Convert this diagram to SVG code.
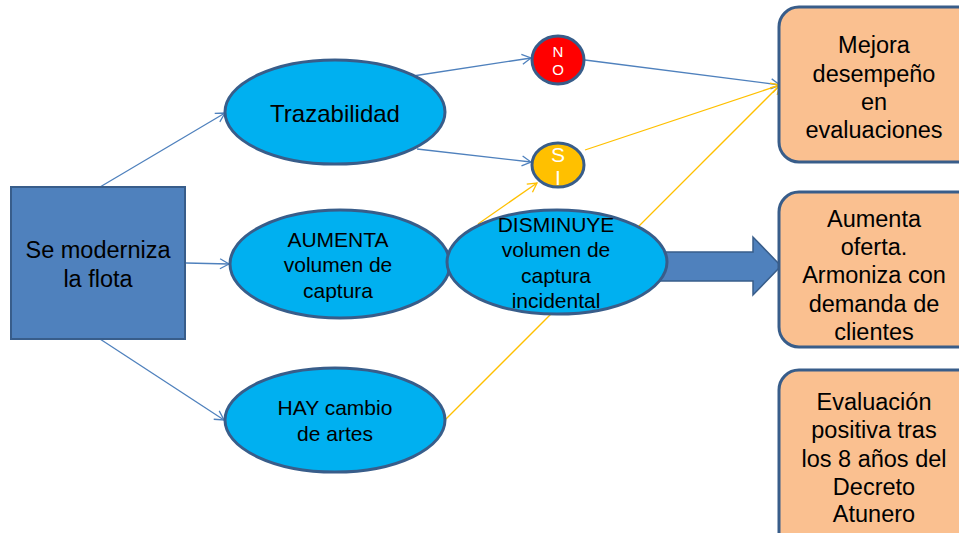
<svg xmlns="http://www.w3.org/2000/svg" width="959" height="533" viewBox="0 0 959 533">
<defs>
<style>
text{font-family:"Liberation Sans",Arial,sans-serif;text-anchor:middle;fill:#000}
.ell{fill:#00b0f0;stroke:#385d8a;stroke-width:3}
.box{fill:#fac090;stroke:#385d8a;stroke-width:3}
.blue{stroke:#4f81bd;stroke-width:1.3;fill:none}
.yel{stroke:#ffc000;stroke-width:1.3;fill:none}
.t24{font-size:23.5px}
.t21{font-size:21px}
.w{fill:#fff}
</style>
<marker id="ab" markerWidth="12" markerHeight="12" refX="10" refY="6" orient="auto" markerUnits="userSpaceOnUse"><path d="M1,1 L10,6 L1,11" fill="none" stroke="#4f81bd" stroke-width="1.3"/></marker>
<marker id="ay" markerWidth="12" markerHeight="12" refX="10" refY="6" orient="auto" markerUnits="userSpaceOnUse"><path d="M1,1 L10,6 L1,11" fill="none" stroke="#ffc000" stroke-width="1.3"/></marker>
</defs>
<rect width="959" height="533" fill="#fff"/>
<g id="connectors">
<line class="blue" x1="100" y1="187" x2="225" y2="113" marker-end="url(#ab)"/>
<line class="blue" x1="186" y1="263" x2="229" y2="264" marker-end="url(#ab)"/>
<line class="blue" x1="100" y1="339" x2="224" y2="420" marker-end="url(#ab)"/>
<line class="blue" x1="413" y1="76" x2="531" y2="58" marker-end="url(#ab)"/>
<line class="blue" x1="417" y1="149" x2="531" y2="162" marker-end="url(#ab)"/>
<line class="blue" x1="585" y1="60" x2="780" y2="85" marker-end="url(#ab)"/>
<line class="yel" x1="585" y1="150" x2="780" y2="85" marker-end="url(#ay)"/>
<line class="yel" x1="445" y1="420" x2="780" y2="85" marker-end="url(#ay)"/>
<line class="yel" x1="478" y1="224" x2="537" y2="183" marker-end="url(#ay)"/>
</g>
<g id="big-arrow">
<path d="M655,252 L753,252 L753,237 L781,266 L753,295 L753,281 L655,281 Z" fill="#4f81bd" stroke="#385d8a" stroke-width="1.5"/>
</g>
<g id="n-flota">
<rect x="11" y="187" width="174" height="152" fill="#4f81bd" stroke="#385d8a" stroke-width="2"/>
<text class="t24" x="98" y="258">Se moderniza</text>
<text class="t24" x="98" y="287">la flota</text>
</g>
<g id="n-traz">
<ellipse class="ell" cx="335" cy="112" rx="110" ry="52"/>
<text x="335" y="122" style="font-size:24px">Trazabilidad</text>
</g>
<g id="n-aumenta">
<ellipse class="ell" cx="340" cy="264" rx="110" ry="54"/>
<text class="t21" x="338" y="247">AUMENTA</text>
<text class="t21" x="338" y="272">volumen de</text>
<text class="t21" x="338" y="298">captura</text>
</g>
<g id="n-disminuye">
<ellipse class="ell" cx="557" cy="262" rx="110" ry="52"/>
<text class="t21" x="556" y="232">DISMINUYE</text>
<text class="t21" x="556" y="257">volumen de</text>
<text class="t21" x="556" y="283">captura</text>
<text class="t21" x="556" y="308">incidental</text>
</g>
<g id="n-hay">
<ellipse class="ell" cx="335" cy="420" rx="110" ry="52"/>
<text class="t21" x="335" y="415">HAY cambio</text>
<text class="t21" x="335" y="441">de artes</text>
</g>
<g id="n-no">
<ellipse cx="558" cy="60" rx="26" ry="24" fill="#ff0000" stroke="#385d8a" stroke-width="3"/>
<text class="w" x="558" y="57" style="font-size:15px">N</text>
<text class="w" x="558" y="75" style="font-size:15px">O</text>
</g>
<g id="n-si">
<ellipse cx="558" cy="165" rx="26" ry="22" fill="#ffc000" stroke="#385d8a" stroke-width="3"/>
<text class="w t21" x="558" y="162">S</text>
<text class="w t21" x="558" y="185">I</text>
</g>
<g id="n-mejora">
<rect class="box" x="779" y="7" width="200" height="155" rx="20"/>
<text class="t24" x="874" y="53">Mejora</text>
<text class="t24" x="874" y="82">desempeño</text>
<text class="t24" x="874" y="110">en</text>
<text class="t24" x="874" y="138">evaluaciones</text>
</g>
<g id="n-oferta">
<rect class="box" x="779" y="192" width="200" height="155" rx="20"/>
<text class="t24" x="874" y="227">Aumenta</text>
<text class="t24" x="874" y="255">oferta.</text>
<text class="t24" x="874" y="283">Armoniza con</text>
<text class="t24" x="874" y="312">demanda de</text>
<text class="t24" x="874" y="340">clientes</text>
</g>
<g id="n-evaluacion">
<rect class="box" x="779" y="370" width="200" height="190" rx="20"/>
<text class="t24" x="874" y="410">Evaluación</text>
<text class="t24" x="874" y="438">positiva tras</text>
<text class="t24" x="874" y="467">los 8 años del</text>
<text class="t24" x="874" y="495">Decreto</text>
<text class="t24" x="874" y="522">Atunero</text>
</g>
</svg>
